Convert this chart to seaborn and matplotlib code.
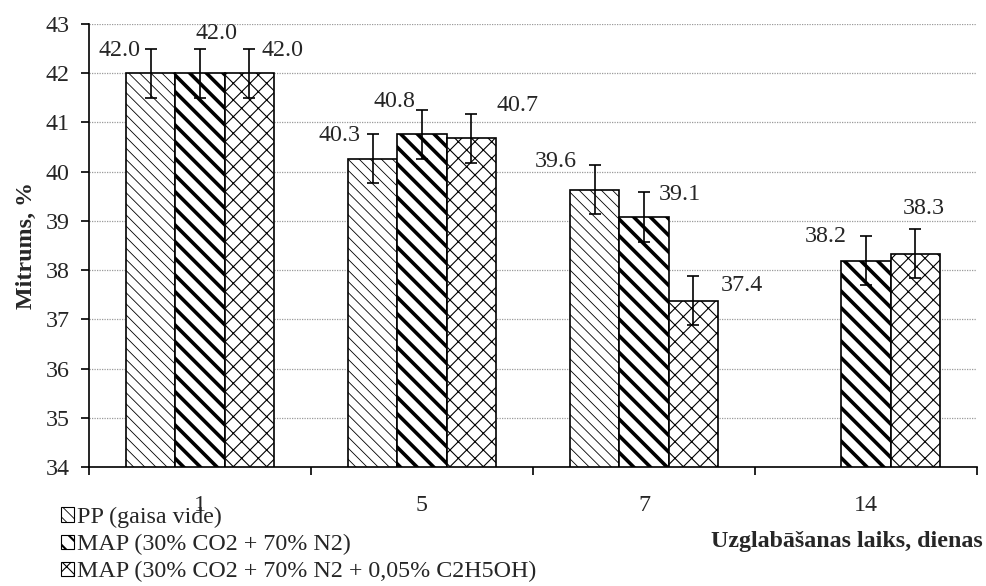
import numpy as np
import pandas as pd
import matplotlib
matplotlib.use("Agg")
import matplotlib.pyplot as plt
import matplotlib.patches as mpatches
import seaborn as sns

# ---- data ----
days = ["1", "5", "7", "14"]
groups = ["PP (gaisa vide)",
          "MAP (30% CO2 + 70% N2)",
          "MAP (30% CO2 + 70% N2 + 0,05% C2H5OH)"]
pp_values = [42.0, 40.26, 39.63, np.nan]
map_values = [42.0, 40.76, 39.08, 38.19]
mape_values = [42.0, 40.68, 37.38, 38.33]
pp_err = [0.5, 0.5, 0.5, np.nan]
map_err = [0.5, 0.5, 0.5, 0.5]
mape_err = [0.5, 0.5, 0.5, 0.5]
y_ticks = [34, 35, 36, 37, 38, 39, 40, 41, 42, 43]
y_label = "Mitrums, %"
x_label = "Uzglabāšanas laiks, dienas"

# ---- style (positions of value labels, in pixels from error-bar top) ----
label_offsets = {
    groups[0]: [(-31, -2), (-33, -1), (-39, 4), None],
    groups[1]: [(16, 15), (-28, 8), (36, -2), (-40, 0)],
    groups[2]: [(33, -2), (46, 8), (49, -9), (8, 21)],
}
hatches = {groups[0]: "\\\\\\", groups[1]: "\\\\", groups[2]: "xx"}
hatch_lw = {groups[0]: 0.6, groups[1]: 2.6, groups[2]: 0.8}
FS = 17.3

sns.set_style("white")
plt.rcParams["font.family"] = ["Liberation Serif", "DejaVu Serif"]
plt.rcParams["font.size"] = FS

values = {groups[0]: pp_values, groups[1]: map_values, groups[2]: mape_values}
errors = {groups[0]: pp_err, groups[1]: map_err, groups[2]: mape_err}

rows = []
for g in groups:
    for d, v, e in zip(days, values[g], errors[g]):
        rows.append({"day": d, "group": g, "value": v, "err": e})
df = pd.DataFrame(rows)
df_plot = df.dropna(subset=["value"])

fig = plt.figure(figsize=(9.86, 5.86), dpi=100)
ax = fig.add_axes([89 / 986, 1 - 467 / 586, (977 - 89) / 986, (467 - 24) / 586])

sns.barplot(data=df_plot, x="day", y="value", hue="group", order=days,
            hue_order=groups, palette=["white"] * 3, width=0.667,
            edgecolor="black", linewidth=1.2, errorbar=None, legend=False,
            ax=ax, zorder=2)


def set_hlw(p, lw):
    if hasattr(p, "set_hatch_linewidth"):
        p.set_hatch_linewidth(lw)
    else:
        p._hatch_linewidth = lw


for g, cont in zip(groups, ax.containers):
    sub = df_plot[df_plot["group"] == g]
    for patch, (_, r) in zip(cont.patches, sub.iterrows()):
        patch.set_hatch(hatches[g])
        set_hlw(patch, hatch_lw[g])
        xc = patch.get_x() + patch.get_width() / 2
        h = patch.get_height()
        ax.errorbar(xc, h, yerr=r["err"], color="black", lw=1.2,
                    capsize=4.5, capthick=1.2, zorder=3)
        off = label_offsets[g][days.index(r["day"])]
        ax.annotate(f"{r['value']:.1f}", (xc, h + r["err"]), xytext=off,
                    textcoords="offset pixels", ha="center", va="center",
                    fontsize=FS, zorder=4)

ax.set_ylim(34, 43)
ax.set_yticks(y_ticks)
ax.set_xlim(-0.5, len(days) - 0.5)
ax.set_xlabel("")
ax.set_ylabel(y_label, fontweight="bold", fontsize=FS, labelpad=6)
ax.yaxis.grid(True, color="#9a9a9a", lw=0.9, linestyle=(0, (1, 1)), zorder=0)
ax.set_axisbelow(True)
for s in ["top", "right"]:
    ax.spines[s].set_visible(False)
for s in ["left", "bottom"]:
    ax.spines[s].set_color("black")
    ax.spines[s].set_linewidth(1.2)
ax.tick_params(axis="y", direction="out", length=6, width=1.2, pad=8,
               labelsize=FS, left=True, color="black")
ax.tick_params(axis="x", which="major", length=0, pad=20, labelsize=FS)
ax.set_xticks(np.arange(-0.5, len(days)), minor=True)
ax.tick_params(axis="x", which="minor", length=6, width=1.2, bottom=True,
               direction="out", color="black")

handles = [mpatches.Patch(facecolor="white", edgecolor="black", lw=0.8,
                          hatch=hatches[g]) for g in groups]
leg = fig.legend(handles, groups, loc="upper left",
                 bbox_to_anchor=(61 / 986, 1 - 507 / 586), frameon=False,
                 handlelength=0.55, handleheight=0.55, handletextpad=0.1,
                 labelspacing=0.25, fontsize=FS, borderpad=0, borderaxespad=0)
for g, p in zip(groups, leg.get_patches()):
    set_hlw(p, min(hatch_lw[g], 1.5))

fig.text(983 / 986, 1 - 542 / 586, x_label, ha="right", va="center",
         fontweight="bold", fontsize=FS)

fig.savefig("out.png", dpi=100)
